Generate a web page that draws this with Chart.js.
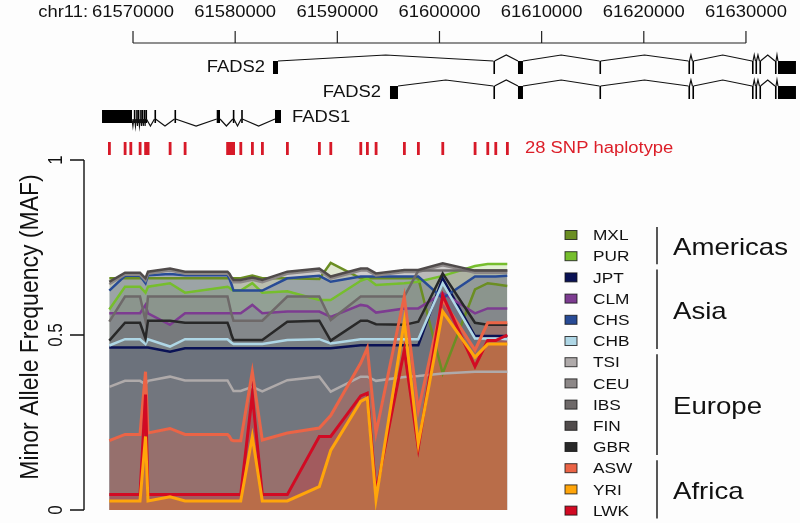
<!DOCTYPE html>
<html lang="en">
<head>
    <meta charset="utf-8">
    <title>FADS haplotype MAF</title>
    <script src="https://cdn.jsdelivr.net/npm/chart.js@4.4.1/dist/chart.umd.min.js"></script>
    <style>
        body {
            margin: 0;
            background: #fdfdfd;
            font-family: "Liberation Sans", Arial, sans-serif;
        }

        .wrap {
            width: 800px;
            height: 523px;
            position: relative;
        }
    </style>
</head>
<body>
<div class="wrap"><canvas id="myChart"></canvas></div>

<script>
    // SNP positions on chr11 (bp) - the 28 SNP haplotype
    var snpPos = [61567680, 61569217, 61569775, 61570685, 61571224, 61571468, 61573622, 61575090,
        61579250, 61579445, 61579641, 61579837, 61580542, 61581677, 61582656, 61585103,
        61588235, 61589351, 61592287, 61592933, 61593785, 61596555, 61597925, 61600313,
        61603475, 61604718, 61605501, 61606637];

    // minor allele frequency per population, one value per SNP
    var MXL = [0.662, 0.662, 0.662, 0.662, 0.662, 0.662, 0.662, 0.662, 0.662, 0.662, 0.662, 0.662, 0.662, 0.670,
        0.662, 0.662, 0.660, 0.706, 0.662, 0.662, 0.662, 0.662, 0.662, 0.390, 0.630, 0.648, 0.645, 0.640];
    var PUR = [0.573, 0.638, 0.638, 0.638, 0.621, 0.638, 0.648, 0.621, 0.638, 0.635, 0.630, 0.627, 0.627, 0.648,
        0.621, 0.625, 0.600, 0.600, 0.655, 0.662, 0.643, 0.648, 0.652, 0.669, 0.697, 0.703, 0.703, 0.703];
    var JPT = [0.464, 0.464, 0.464, 0.464, 0.464, 0.464, 0.452, 0.462, 0.462, 0.462, 0.462, 0.462, 0.462, 0.462,
        0.462, 0.462, 0.462, 0.462, 0.471, 0.471, 0.471, 0.471, 0.471, 0.662, 0.497, 0.497, 0.497, 0.497];
    var CLM = [0.562, 0.562, 0.562, 0.562, 0.586, 0.562, 0.529, 0.562, 0.562, 0.562, 0.562, 0.562, 0.562, 0.586,
        0.562, 0.567, 0.567, 0.552, 0.586, 0.583, 0.564, 0.576, 0.576, 0.620, 0.562, 0.576, 0.576, 0.576];
    var CHS = [0.627, 0.669, 0.669, 0.669, 0.648, 0.671, 0.674, 0.671, 0.671, 0.660, 0.645, 0.627, 0.627, 0.627,
        0.627, 0.662, 0.669, 0.652, 0.667, 0.667, 0.667, 0.667, 0.667, 0.605, 0.667, 0.667, 0.667, 0.669];
    var CHB = [0.470, 0.488, 0.488, 0.488, 0.474, 0.488, 0.467, 0.488, 0.488, 0.483, 0.478, 0.474, 0.474, 0.474,
        0.474, 0.486, 0.488, 0.476, 0.488, 0.488, 0.488, 0.488, 0.488, 0.648, 0.490, 0.490, 0.490, 0.488];
    var TSI = [0.352, 0.369, 0.369, 0.369, 0.359, 0.369, 0.381, 0.370, 0.370, 0.360, 0.350, 0.340, 0.340, 0.352,
        0.339, 0.371, 0.381, 0.338, 0.381, 0.381, 0.369, 0.380, 0.383, 0.390, 0.395, 0.395, 0.395, 0.395];
    var CEU = [0.645, 0.672, 0.672, 0.672, 0.655, 0.675, 0.684, 0.675, 0.675, 0.669, 0.659, 0.651, 0.651, 0.658,
        0.651, 0.675, 0.684, 0.661, 0.684, 0.684, 0.670, 0.680, 0.680, 0.699, 0.678, 0.678, 0.678, 0.678];
    var IBS = [0.538, 0.610, 0.610, 0.610, 0.540, 0.610, 0.610, 0.610, 0.610, 0.585, 0.560, 0.541, 0.541, 0.541,
        0.541, 0.610, 0.610, 0.543, 0.610, 0.610, 0.610, 0.610, 0.684, 0.684, 0.684, 0.684, 0.684, 0.684];
    var FIN = [0.652, 0.678, 0.678, 0.678, 0.662, 0.681, 0.690, 0.681, 0.681, 0.675, 0.665, 0.657, 0.657, 0.664,
        0.657, 0.681, 0.690, 0.667, 0.690, 0.690, 0.676, 0.686, 0.686, 0.705, 0.684, 0.684, 0.684, 0.684];
    var GBR = [0.484, 0.535, 0.535, 0.535, 0.490, 0.541, 0.541, 0.535, 0.535, 0.520, 0.500, 0.486, 0.486, 0.486,
        0.486, 0.538, 0.541, 0.484, 0.541, 0.541, 0.531, 0.529, 0.538, 0.676, 0.535, 0.529, 0.529, 0.529];
    var ASW = [0.198, 0.216, 0.216, 0.216, 0.395, 0.220, 0.233, 0.216, 0.216, 0.210, 0.200, 0.198, 0.198, 0.395,
        0.200, 0.220, 0.234, 0.270, 0.420, 0.463, 0.220, 0.610, 0.285, 0.600, 0.457, 0.535, 0.535, 0.535];
    var YRI = [0.026, 0.026, 0.026, 0.026, 0.210, 0.026, 0.038, 0.026, 0.026, 0.026, 0.026, 0.026, 0.026, 0.210,
        0.026, 0.026, 0.067, 0.170, 0.310, 0.320, 0.030, 0.540, 0.190, 0.567, 0.437, 0.474, 0.474, 0.474];
    var LWK = [0.044, 0.044, 0.044, 0.044, 0.330, 0.044, 0.044, 0.044, 0.044, 0.044, 0.044, 0.044, 0.044, 0.330,
        0.044, 0.044, 0.210, 0.210, 0.326, 0.334, 0.050, 0.457, 0.177, 0.614, 0.410, 0.484, 0.484, 0.500];

    var popNames = ['MXL', 'PUR', 'JPT', 'CLM', 'CHS', 'CHB', 'TSI', 'CEU', 'IBS', 'FIN', 'GBR', 'ASW', 'YRI', 'LWK'];
    var popValues = [MXL, PUR, JPT, CLM, CHS, CHB, TSI, CEU, IBS, FIN, GBR, ASW, YRI, LWK];
    var popColors = ['107,142,35', '118,190,45', '10,18,85', '125,60,145', '40,75,150', '175,215,230',
        '175,170,170', '140,135,135', '110,105,105', '80,75,75', '40,40,40', '235,100,70', '255,165,10', '210,10,35'];
    var fillAlpha = [0.2, 0.2, 0.3, 0.2, 0.25, 0.22, 0.2, 0.2, 0.18, 0.16, 0.14, 0.3, 0.25, 0.2];
    // drawing rank: first drawn lies at the bottom
    var drawRank = [0, 1, 2, 3, 4, 5, 6, 7, 8, 9, 10, 11, 13, 12];

    var groupNames = ['Americas', 'Asia', 'Europe', 'Africa'];
    var groupRows = [[0, 1], [2, 5], [6, 10], [11, 13]];

    // genome coordinate axis
    var coordTicks = [61570000, 61580000, 61590000, 61600000, 61610000, 61620000, 61630000];

    // gene models (exon start, end in bp)
    var fads2Long = [[61583703, 61584193], [61605280, 61605390], [61607684, 61608173], [61615660, 61615770],
        [61624370, 61624470], [61624760, 61624860], [61630590, 61630690], [61630930, 61631030],
        [61631320, 61631420], [61632840, 61632940], [61633133, 61634895]];
    var fads2Short = [[61595155, 61595938], [61605280, 61605390], [61607684, 61608173], [61615660, 61615770],
        [61624370, 61624470], [61624760, 61624860], [61630590, 61630690], [61630930, 61631030],
        [61631320, 61631420], [61632840, 61632940], [61633133, 61634895]];
    var fads1 = [[61566966, 61569902], [61570080, 61570170], [61570310, 61570400], [61570470, 61570560],
        [61570700, 61570790], [61570860, 61570950], [61571060, 61571150], [61571220, 61571310],
        [61572100, 61572200], [61574060, 61574160], [61578193, 61578516], [61579770, 61579870],
        [61580590, 61580690], [61583899, 61584486]];

    var SX = 1.15;   // the figure text is a bit wide

    function txt(ctx, s, x, y, size, align, color, rotate) {
        ctx.save();
        ctx.translate(x, y);
        if (rotate) {
            ctx.rotate(-Math.PI / 2);
            ctx.scale(1, SX);
        } else {
            ctx.scale(SX, 1);
        }
        ctx.font = size + 'px "Liberation Sans", Arial, sans-serif';
        ctx.textAlign = align;
        ctx.textBaseline = 'middle';
        ctx.fillStyle = color;
        ctx.fillText(s, 0, 0);
        ctx.restore();
    }

    function drawGene(ctx, xs, exons, top, bottom, up) {
        ctx.strokeStyle = '#111';
        ctx.fillStyle = '#000';
        ctx.lineWidth = 1.2;
        for (var i = 0; i < exons.length; i++) {
            var a = xs.getPixelForValue(exons[i][0]);
            var b = xs.getPixelForValue(exons[i][1]);
            ctx.fillRect(a, top, Math.max(b - a, 1.6), bottom - top);
            if (i < exons.length - 1) {
                var n = xs.getPixelForValue(exons[i + 1][0]);
                var base = up ? top : bottom - 4;
                var tip = up ? top - 6 : bottom + 3;
                ctx.beginPath();
                ctx.moveTo(b, base);
                ctx.lineTo((b + n) / 2, tip);
                ctx.lineTo(n, base);
                ctx.stroke();
            }
        }
    }

    var extras = {
        id: 'extras',
        afterDraw: function (chart) {
            var ctx = chart.ctx;
            var xs = chart.scales.x;
            var ys = chart.scales.y;
            ctx.save();

            // top coordinate axis
            var x0 = xs.getPixelForValue(coordTicks[0]);
            var x1 = xs.getPixelForValue(coordTicks[coordTicks.length - 1]);
            ctx.strokeStyle = '#222';
            ctx.lineWidth = 1.2;
            ctx.beginPath();
            ctx.moveTo(x0, 43);
            ctx.lineTo(x1, 43);
            coordTicks.forEach(function (t) {
                var px = xs.getPixelForValue(t);
                ctx.moveTo(px, 43);
                ctx.lineTo(px, 31);
            });
            ctx.stroke();
            coordTicks.forEach(function (t) {
                txt(ctx, String(t), xs.getPixelForValue(t), 13, 16, 'center', '#111');
            });
            txt(ctx, 'chr11:', 88, 13, 16, 'right', '#111');

            // gene models
            drawGene(ctx, xs, fads2Long, 61, 74, true);
            txt(ctx, 'FADS2', xs.getPixelForValue(fads2Long[0][0]) - 8, 68, 16, 'right', '#111');
            drawGene(ctx, xs, fads2Short, 86, 99, true);
            txt(ctx, 'FADS2', xs.getPixelForValue(fads2Short[0][0]) - 9, 93, 16, 'right', '#111');
            drawGene(ctx, xs, fads1, 110, 123, false);
            txt(ctx, 'FADS1', xs.getPixelForValue(fads1[fads1.length - 1][1]) + 11, 118, 16, 'left', '#111');

            // SNP ticks
            ctx.fillStyle = 'rgb(215,25,40)';
            snpPos.forEach(function (p) {
                ctx.fillRect(xs.getPixelForValue(p) - 1.3, 142, 2.8, 13);
            });
            txt(ctx, '28 SNP haplotype', 525, 149, 16, 'left', 'rgb(220,30,40)');

            // y axis (R style)
            var yTop = ys.getPixelForValue(1);
            var yBot = ys.getPixelForValue(0);
            ctx.strokeStyle = '#111';
            ctx.lineWidth = 1.4;
            ctx.beginPath();
            ctx.moveTo(84, yTop);
            ctx.lineTo(84, yBot);
            [0, 0.5, 1].forEach(function (v) {
                var py = ys.getPixelForValue(v);
                ctx.moveTo(84, py);
                ctx.lineTo(70, py);
            });
            ctx.stroke();
            [0, 0.5, 1].forEach(function (v) {
                txt(ctx, String(v), 57, ys.getPixelForValue(v), 17, 'center', '#111', true);
            });
            txt(ctx, 'Minor Allele Frequency (MAF)', 31, (yTop + yBot) / 2 - 8, 23, 'center', '#111', true);

            // legend
            var rowY = function (r) { return 235 + r * 21.2; };
            popNames.forEach(function (name, i) {
                var y = rowY(i);
                ctx.fillStyle = 'rgb(' + popColors[i] + ')';
                ctx.fillRect(565, y - 4.5, 12, 9);
                ctx.strokeStyle = 'rgba(20,20,20,0.8)';
                ctx.lineWidth = 1;
                ctx.strokeRect(565, y - 4.5, 12, 9);
                txt(ctx, name, 593, y + 1, 15, 'left', '#111');
            });
            groupNames.forEach(function (g, k) {
                var ya = rowY(groupRows[k][0]) - 8;
                var yb = rowY(groupRows[k][1]) + 8;
                ctx.strokeStyle = '#111';
                ctx.lineWidth = 1.4;
                ctx.beginPath();
                ctx.moveTo(657, ya);
                ctx.lineTo(657, yb);
                ctx.stroke();
                txt(ctx, g, 673, (ya + yb) / 2 + 3, 24, 'left', '#111');
            });
            ctx.restore();
        }
    };

    var datasets = popNames.map(function (name, i) {
        var isAfrica = i >= 11;
        return {
            label: name,
            data: snpPos.map(function (p, j) { return {x: p, y: popValues[i][j]}; }),
            borderColor: 'rgb(' + popColors[i] + ')',
            backgroundColor: 'rgba(' + popColors[i] + ',' + fillAlpha[i] + ')',
            borderWidth: isAfrica ? 3 : 2.5,
            fill: 'origin',
            order: 100 - drawRank[i]
        };
    });

    var ctx = document.getElementById('myChart').getContext('2d');
    var chart = new Chart(ctx, {
        type: 'line',
        data: {datasets: datasets},
        options: {
            responsive: true,
            maintainAspectRatio: false,
            animation: false,
            layout: {padding: {left: 90, right: 0, top: 160, bottom: 13}},
            elements: {point: {radius: 0}, line: {tension: 0}},
            scales: {
                x: {type: 'linear', display: false, min: 61565790, max: 61635290},
                y: {display: false, min: 0, max: 1}
            },
            plugins: {
                legend: {display: false},
                tooltip: {enabled: false},
                filler: {drawTime: 'beforeDatasetsDraw'}
            }
        },
        plugins: [extras]
    });
</script>
</body>
</html>
